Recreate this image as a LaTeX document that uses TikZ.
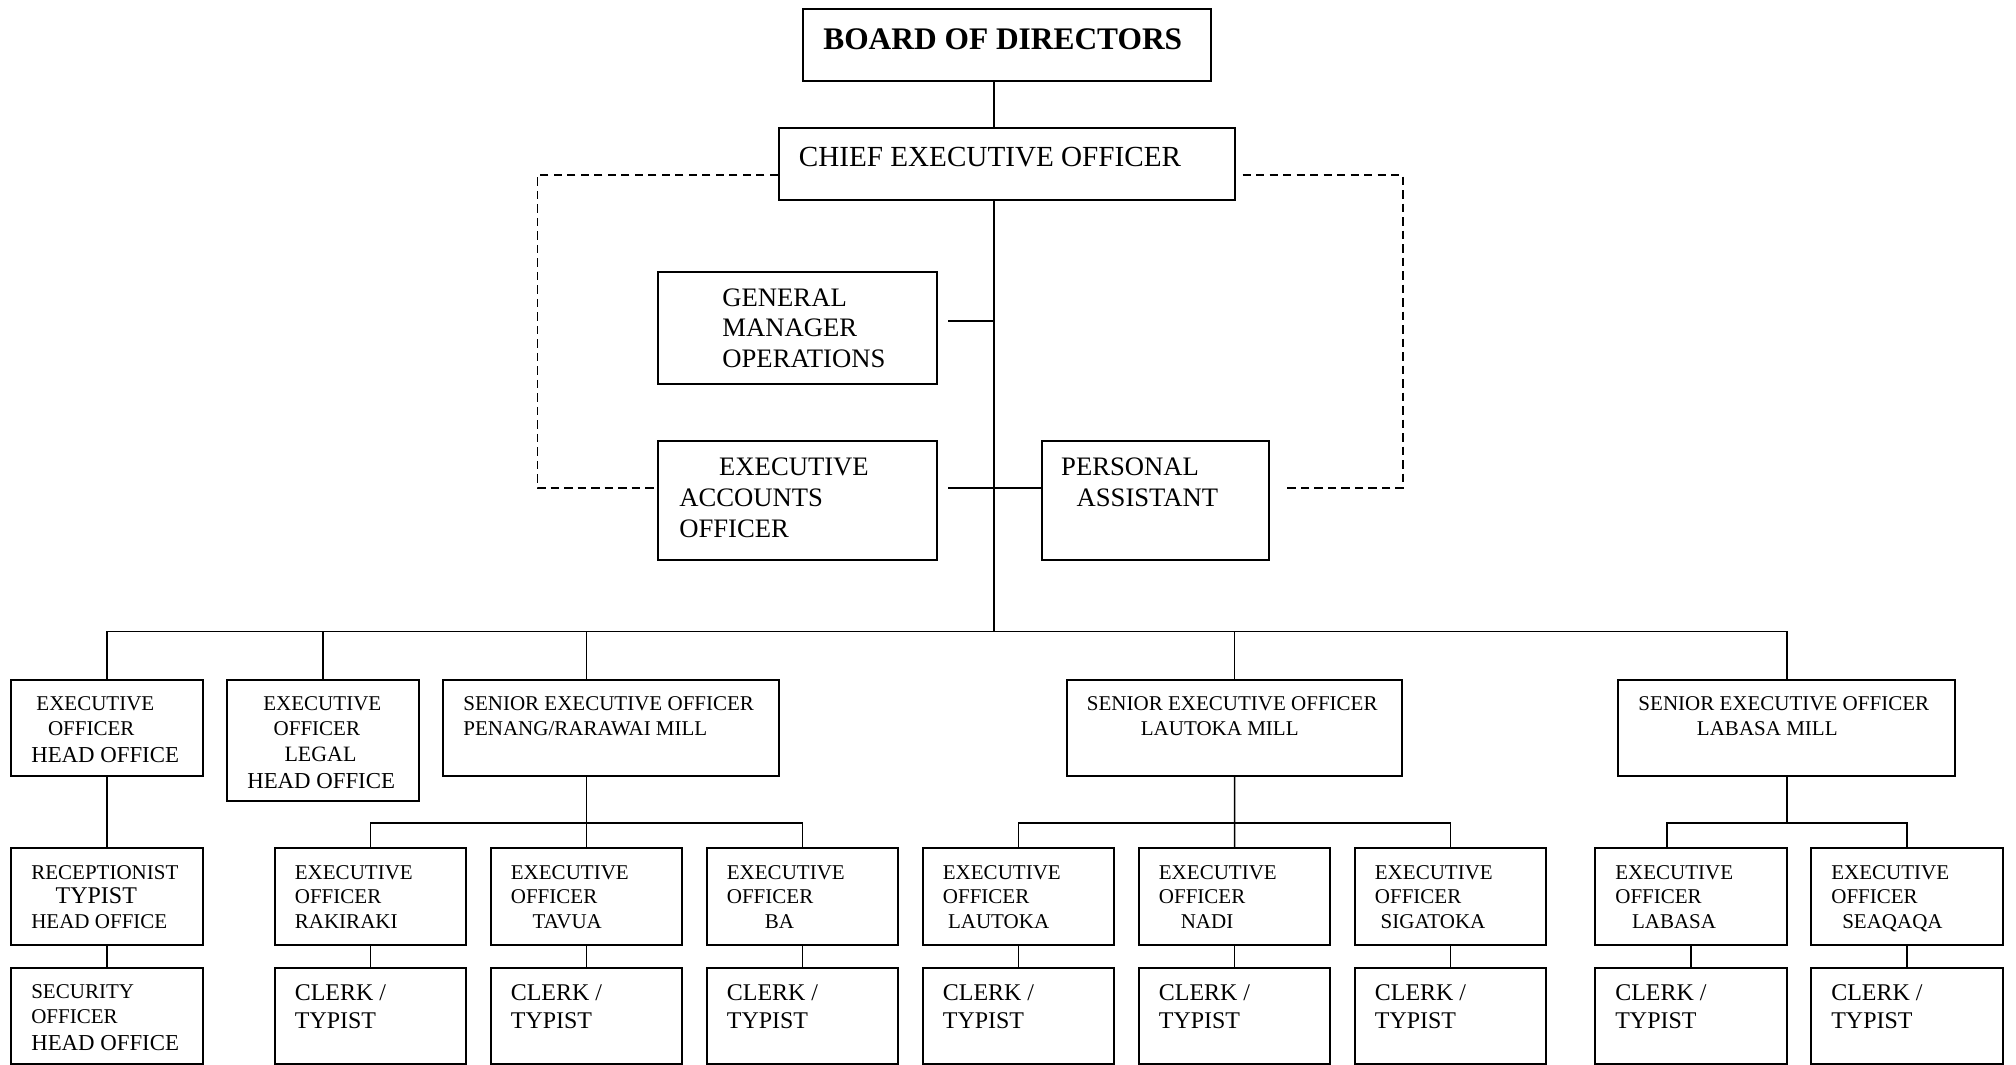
\documentclass[tikz,border=0pt]{standalone}
\usepackage{fontspec}
\setmainfont{Liberation Serif}
\newcommand\fsm{\fontsize{9.3}{11}\selectfont}
\newcommand\fbg{\fontsize{10.6}{12.2}\selectfont}
\newcommand\fhd{\fontsize{10.1}{12.2}\selectfont}
\newcommand\fmd{\fontsize{11.8}{13.6}\selectfont}
\begin{document}
\begin{tikzpicture}[
  box/.style={draw, line width=0.8pt, anchor=north west, inner sep=0pt},
  unit/.style={box, minimum width=2.98cm, minimum height=1.5cm},
  txt/.style={anchor=north west, inner sep=0pt, align=left, font=\fsm},
  link/.style={line width=0.7pt},
  dashlink/.style={line width=0.8pt, dash pattern=on 0.13cm off 0.08cm}]
\useasboundingbox (0,0) rectangle (31.36,-16.56);
\coordinate (trunk) at (15.46,0);
\coordinate (bus) at (0,-9.82);
\coordinate (sub) at (0,-12.80);
\coordinate (dashL) at (8.36,-2.72);
\coordinate (dashR) at (21.82,-2.72);
% top
\node[box, minimum width=6.34cm, minimum height=1.12cm] (board) at (12.48,-0.12) {};
\node[txt, font=\fontsize{13.9}{16}\selectfont\bfseries] (board-t) at ([shift={(0.32,-0.32)}]board.north west) {BOARD OF DIRECTORS};
\node[box, minimum width=7.10cm, minimum height=1.12cm] (ceo) at (12.10,-1.98) {};
\node[txt, font=\fontsize{12.9}{15}\selectfont] (ceo-t) at ([shift={(0.32,-0.30)}]ceo.north west) {CHIEF EXECUTIVE OFFICER};
\node[box, minimum width=4.34cm, minimum height=1.74cm] (gmo) at (10.22,-4.22) {};
\node[txt, font=\fmd] (gmo-t) at ([shift={(1.01,-0.26)}]gmo.north west) {GENERAL\\MANAGER\\OPERATIONS};
\node[box, minimum width=4.34cm, minimum height=1.86cm] (eao) at (10.22,-6.84) {};
\node[txt, font=\fmd] (eao-t) at ([shift={(0.34,-0.28)}]eao.north west) {\hspace*{0.62cm}EXECUTIVE\\ACCOUNTS\\OFFICER};
\node[box, minimum width=3.52cm, minimum height=1.86cm] (pa) at (16.20,-6.84) {};
\node[txt, font=\fmd] (pa-t) at ([shift={(0.30,-0.28)}]pa.north west) {PERSONAL\\\hspace*{0.24cm}ASSISTANT};
\draw[link] (board.south -| trunk) -- (ceo.north -| trunk);
\draw[link] (ceo.south -| trunk) -- (bus -| trunk);
\draw[link] ([xshift=0.16cm,yshift=0.11cm]gmo.east) -- ([yshift=0.11cm]gmo.east -| trunk);
\draw[link] ([xshift=0.16cm,yshift=0.19cm]eao.east) -- ([yshift=0.19cm]pa.west);
\draw[dashlink] (ceo.west |- dashL) -- (dashL) |- ([yshift=0.19cm]eao.west);
\draw[dashlink] ([xshift=0.1cm]ceo.east |- dashR) -- (dashR) |- ([xshift=0.22cm,yshift=0.19cm]pa.east);
% second row
\node[unit] (eoho) at (0.16,-10.56) {};
\node[txt] (eoho-t) at ([shift={(0.32,-0.27)}]eoho.north west) {\hspace*{0.08cm}EXECUTIVE\\\hspace*{0.26cm}OFFICER\\[1pt]{\fhd HEAD OFFICE}};
\node[unit, minimum height=1.88cm] (eolho) at (3.52,-10.56) {};
\node[txt] (eolho-t) at ([shift={(0.32,-0.27)}]eolho.north west) {\hspace*{0.25cm}EXECUTIVE\\\hspace*{0.41cm}OFFICER\\[0.5pt]\hspace*{0.58cm}{\fontsize{9.7}{11}\selectfont LEGAL}\\[1pt]{\fhd HEAD OFFICE}};
\node[unit, minimum width=5.22cm] (seopen) at (6.88,-10.56) {};
\node[txt] (seopen-t) at ([shift={(0.32,-0.27)}]seopen.north west) {SENIOR EXECUTIVE OFFICER\\PENANG/RARAWAI MILL};
\node[unit, minimum width=5.22cm] (seolau) at (16.58,-10.56) {};
\node[txt] (seolau-t) at ([shift={(0.32,-0.27)}]seolau.north west) {SENIOR EXECUTIVE OFFICER\\\hspace*{0.84cm}LAUTOKA MILL};
\node[unit, minimum width=5.24cm] (seolab) at (25.16,-10.56) {};
\node[txt] (seolab-t) at ([shift={(0.32,-0.27)}]seolab.north west) {SENIOR EXECUTIVE OFFICER\\\hspace*{0.91cm}LABASA MILL};
% third row
\node[unit] (rec) at (0.16,-13.18) {};
\node[txt] (rec-t) at ([shift={(0.32,-0.27)}]rec.north west) {RECEPTIONIST\\\hspace*{0.38cm}{\fbg TYPIST}\\HEAD OFFICE};
\foreach \n/\x/\ind/\place in {rak/4.26/0/RAKIRAKI, tav/7.62/0.34/TAVUA, ba/10.98/0.59/BA,
  lau/14.34/0.08/LAUTOKA, nad/17.70/0.34/NADI, sig/21.06/0.09/SIGATOKA,
  lab/24.80/0.26/LABASA, sea/28.16/0.17/SEAQAQA}{
  \node[unit] (\n) at (\x,-13.18) {};
  \node[txt] (\n-t) at ([shift={(0.32,-0.27)}]\n.north west) {EXECUTIVE\\OFFICER\\\hspace*{\ind cm}\place};
}
% fourth row
\node[unit] (sec) at (0.16,-15.04) {};
\node[txt] (sec-t) at ([shift={(0.32,-0.27)}]sec.north west) {SECURITY\\OFFICER\\[1pt]{\fhd HEAD OFFICE}};
\draw[link] (rec.south) -- (sec.north);
\foreach \n/\x in {rak/4.26, tav/7.62, ba/10.98, lau/14.34, nad/17.70, sig/21.06, lab/24.80, sea/28.16}{
  \node[unit] (clk-\n) at (\x,-15.04) {};
  \node[txt, font=\fbg] (clk-\n-t) at ([shift={(0.32,-0.27)}]clk-\n.north west) {CLERK /\\TYPIST};
  \draw[link] (\n.south) -- (clk-\n.north);
}
% bus lines
\draw[link] (eoho.north) -- (eoho.north |- bus) -- (seolab.north |- bus) -- (seolab.north);
\draw[link] (eolho.north) -- (eolho.north |- bus);
\draw[link] (tav.north |- seopen.north) -- (tav.north |- bus);
\draw[link] (seolau.north) -- (seolau.north |- bus);
\draw[link] (eoho.south) -- (rec.north);
\draw[link] (tav.north |- seopen.south) -- (tav.north);
\draw[link] (rak.north) |- (ba.north |- sub) -- (ba.north);
\draw[link] (seolau.south) -- (nad.north);
\draw[link] (lau.north) |- (sig.north |- sub) -- (sig.north);
\draw[link] (seolab.south) -- (seolab.south |- sub);
\draw[link] ([xshift=-0.37cm]lab.north) |- (sea.north |- sub) -- (sea.north);
\end{tikzpicture}
\end{document}
